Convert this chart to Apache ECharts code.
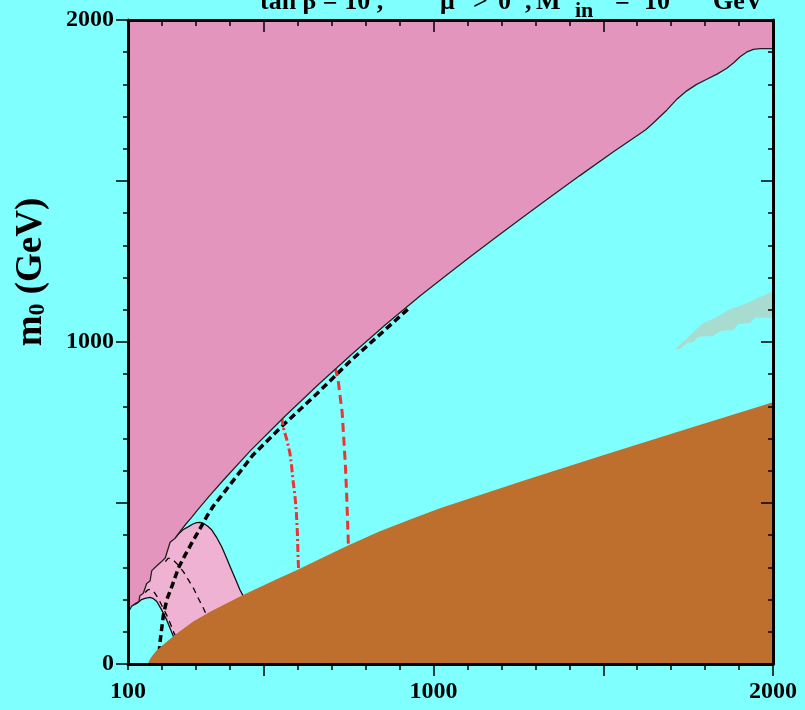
<!DOCTYPE html>
<html><head><meta charset="utf-8">
<script src="https://cdn.jsdelivr.net/npm/echarts@6/dist/echarts.min.js"></script>
<style>html,body{margin:0;padding:0;background:#80FFFF;}#c{width:805px;height:710px;}</style>
</head><body><div id="c"></div>
<script>
// ---- data (x = m1/2 GeV, y = m0 GeV) ----
const xTickLabels = [100, 1000, 2000];
const yTickLabels = [0, 1000, 2000];
const xMajorTicks = [500, 1000, 1500, 2000];
const yMajorTicks = [0, 500, 1000, 1500, 2000];

const darkPinkBoundary = [[100,165],[106,170],[111,180],[125,190],[132,194],[135,212],[145,220],[150,226],[155,250],[165,258],[170,290],[185,305],[199,318],[210,330],[214,344],[224,378],[238,390],[253,411],[270,434],[288,456],[302,475],[340,522],[380,570],[460,662],[560,767],[660,867],[760,963],[860,1055],[960,1143],[1035,1205],[1110,1266],[1185,1326],[1260,1385],[1345,1451],[1430,1516],[1530,1591],[1608,1647],[1625,1659],[1645,1678],[1665,1698],[1687,1720],[1715,1752],[1746,1780],[1775,1800],[1805,1816],[1835,1832],[1864,1850],[1885,1868],[1903,1886],[1922,1900],[1942,1909],[1962,1911],[2000,1911]];
const lightPinkArc = [[238,390],[250,405],[262,417],[277,426],[290,434],[302,439],[312,440],[322,437],[335,428],[347,416],[360,395],[376,364],[390,330],[405,292],[418,260],[430,230],[440,210],[446,195]];
const holeArc = [[111,180],[126,188],[140,200],[150,204],[165,207],[175,203],[185,194],[199,168],[214,137],[229,98],[236,80]];
const brownEdge = [[159,0],[163,12],[171,25],[185,43],[215,70],[244,95],[291,131],[342,162],[439,214],[533,261],[598,292],[671,329],[748,368],[842,412],[931,449],[1019,484],[1264,569],[1511,652],[1755,733],[2000,813]];
const grayUpper = [[1711,977],[1731,996],[1756,1022],[1794,1059],[1835,1078],[1868,1099],[1924,1121],[1962,1140],[2000,1158]];
const grayLower = [[2000,1075],[1947,1075],[1932,1059],[1897,1056],[1883,1037],[1844,1034],[1824,1019],[1780,1016],[1765,1000],[1747,997],[1726,978]];
const thickDashed = [[190,0],[194,65],[204,150],[214,199],[229,240],[248,297],[268,338],[290,380],[312,420],[332,458],[351,490],[375,522],[400,556],[468,649],[557,742],[657,840],[754,940],[851,1032],[931,1108]];
const thinDashedA = [[210,318],[218,328],[226,328],[236,320],[248,307],[263,287],[278,261],[293,235],[307,204],[320,178],[330,155]];
const thinDashedB = [[150,222],[158,230],[165,232],[175,226],[189,204],[199,183],[214,152],[224,127],[236,95],[242,85]];
const redDashDot = [[553,766],[557,736],[568,696],[577,655],[582,613],[586,571],[592,520],[596,470],[599,406],[601,330],[603,280]];
const redDashed = [[710,921],[719,882],[725,830],[731,780],[734,727],[740,624],[744,530],[746,468],[749,376],[750,340]];

// ---- derived polygons ----
const darkPinkPoly = [[100,2000]].concat(darkPinkBoundary, [[2000,2000]]);
const lightPinkPoly = darkPinkBoundary.filter(p => p[0] >= 111 && p[0] <= 238)
  .concat(lightPinkArc.slice(1), [[470,150],[300,60],[240,60]], holeArc.slice().reverse());
const brownPoly = brownEdge.concat([[2000,0]]);
const grayPoly = grayUpper.concat(grayLower);

const chart = echarts.init(document.getElementById('c'), null, {renderer: 'canvas'});
function poly(points, color, z) {
  return {type:'custom', coordinateSystem:'cartesian2d', xAxisIndex:0, yAxisIndex:0, z:z, silent:true, clip:true,
    data:[[points[0][0], points[0][1]]],
    renderItem: function (params, api) {
      return {type:'polygon', shape:{points: points.map(p => api.coord(p))}, style:{fill: color}};
    }};
}
function line(points, color, width, type, z) {
  return {type:'line', xAxisIndex:0, yAxisIndex:0, data:points, symbol:'none', showSymbol:false, z:z, silent:true, clip:true,
    lineStyle:{color: color, width: width, type: type, cap:'butt'}};
}
const serifBold = {fontFamily:'Liberation Serif', fontWeight:'bold', fontSize:24, color:'#000', formatter: v => String(v)};
const tickStyle = {color:'#000', width:1.5};
function xAx(pos, main, inside) {
  return {type:'value', position:pos, min:100, max:2000, interval:100, z:10,
    axisLine:{show: main, onZero:false, lineStyle:{color:'#000', width:3}},
    axisTick:main ? {show:true, inside:inside, length:6, lineStyle:tickStyle} : {show:true, inside:inside, length:12, customValues:xMajorTicks, lineStyle:tickStyle},
    axisLabel:(main && pos === 'bottom') ? Object.assign({show:true, customValues:xTickLabels, margin:16}, serifBold) : {show:false},
    splitLine:{show:false}};
}
function yAx(pos, main, inside) {
  return {type:'value', position:pos, min:0, max:2000, interval:100, z:10,
    axisLine:{show: main, onZero:false, lineStyle:{color:'#000', width:3}},
    axisTick:main ? {show:true, inside:inside, length:5, lineStyle:tickStyle} : {show:true, inside:inside, length:12, customValues:yMajorTicks, lineStyle:tickStyle},
    axisLabel:(main && pos === 'left') ? Object.assign({show:true, customValues:yTickLabels, margin:14}, serifBold) : {show:false},
    splitLine:{show:false}};
}
const T = (text, x, y, size) => ({type:'text', x:x, y:y, z:20, silent:true,
  style:{text:text, font:'bold ' + size + 'px "Liberation Serif"', fill:'#000', verticalAlign:'middle'}});

chart.setOption({
  animation:false,
  backgroundColor:'#80FFFF',
  grid:{left:128, right:32, top:20, bottom:46, containLabel:false},
  xAxis:[xAx('bottom', true, false), xAx('bottom', false, false), xAx('top', true, true), xAx('top', false, true)],
  yAxis:[yAx('left', true, false), yAx('left', false, false), yAx('right', true, true), yAx('right', false, true)],
  series:[
    poly(lightPinkPoly, '#F0B2D2', 1),
    poly(grayPoly, '#A9DCD0', 1),
    line(holeArc, '#111', 1.3, 'solid', 2),
    line(lightPinkArc, '#111', 1.3, 'solid', 2),
    line(thinDashedA, '#000', 1.3, [6,5], 2),
    line(thinDashedB, '#000', 1.3, [6,5], 2),
    line(thickDashed, '#000', 3.5, [7,4], 2),
    line(redDashDot, '#EE3333', 3, [8,3,2,3], 2),
    line(redDashed, '#EE3333', 3, [9,5], 2),
    poly(brownPoly, '#BE6F2E', 3),
    poly(darkPinkPoly, '#E495BE', 4),
    line(darkPinkBoundary, '#222', 1.3, 'solid', 5)
  ],
  graphic:[
    T('tan β = 10 ,', 260, 2, 26),
    T('μ', 440, 2, 26), T('>', 473, 2, 26), T('0', 498, 2, 26), T(',', 525, 2, 26),
    T('M', 536, 2, 26), T('in', 575, 11, 22), T('=', 615, 2, 26), T('10', 644, 2, 26),
    T('16', 690, -10, 18), T('GeV', 713, 2, 26),
    {type:'text', x:31, y:272, rotation:Math.PI/2, z:20, silent:true,
      style:{text:'{a|m}{b|0}{a| (GeV)}', align:'center', verticalAlign:'middle',
        rich:{a:{fontFamily:'Liberation Serif', fontWeight:'bold', fontSize:37, fill:'#000'},
              b:{fontFamily:'Liberation Serif', fontWeight:'bold', fontSize:24, fill:'#000', verticalAlign:'bottom'}}}}
  ]
});
</script></body></html>
